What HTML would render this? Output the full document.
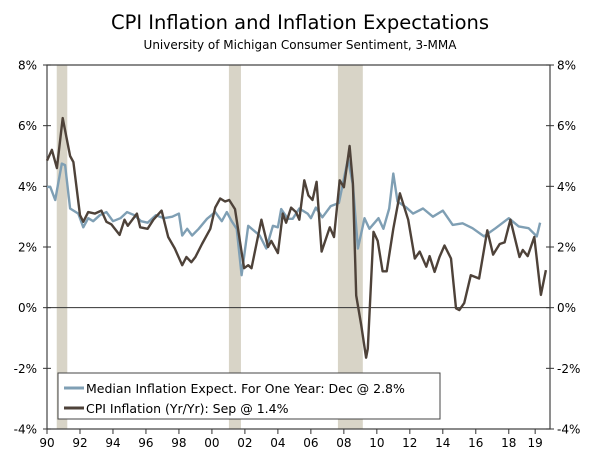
<!DOCTYPE html>
<html><head><meta charset="utf-8"><style>
body{margin:0;background:#fff;}
svg text{font-family:"DejaVu Sans","Liberation Sans",sans-serif;fill:#000;}
</style></head><body>
<svg width="600" height="454" viewBox="0 0 600 454">
<g id="bg"></g><g id="axes"></g><g id="series"></g>
<text x="300" y="29" text-anchor="middle" font-size="19.5">CPI Inflation and Inflation Expectations</text>
<text x="300" y="49" text-anchor="middle" font-size="12">University of Michigan Consumer Sentiment, 3-MMA</text>
<g>
<rect x="58" y="373" width="382" height="46" fill="#fff" stroke="#444" stroke-width="1"/>
<line x1="64" y1="388" x2="84" y2="388" stroke="#7f9fb4" stroke-width="3"/>
<text x="86" y="393" font-size="12.5">Median Inflation Expect. For One Year: Dec @ 2.8%</text>
<line x1="64" y1="408" x2="84" y2="408" stroke="#4e4239" stroke-width="3"/>
<text x="86" y="413" font-size="12.5">CPI Inflation (Yr/Yr): Sep @ 1.4%</text>
</g>
</svg>
<script>
const recessions=[[1990.59,1991.23],[2001.03,2001.76],[2007.64,2009.15]];
const yTicks=[8,6,4,2,0,-2,-4];
const xYears=[1990,1992,1994,1996,1998,2000,2002,2004,2006,2008,2010,2012,2014,2016,2018,2019.6];
const xLabels=["90","92","94","96","98","00","02","04","06","08","10","12","14","16","18","19"];
const cpiT=[1990.0,1990.3,1990.6,1990.95,1991.4,1991.6,1992.0,1992.2,1992.5,1992.9,1993.3,1993.6,1993.9,1994.4,1994.7,1994.9,1995.45,1995.65,1996.1,1996.45,1996.95,1997.35,1997.75,1998.2,1998.45,1998.75,1999.0,1999.4,1999.9,2000.2,2000.5,2000.8,2001.05,2001.4,2001.7,2001.95,2002.2,2002.4,2003.0,2003.4,2003.6,2004.0,2004.3,2004.5,2004.8,2005.1,2005.3,2005.6,2005.85,2006.1,2006.35,2006.65,2007.15,2007.4,2007.75,2008.0,2008.35,2008.55,2008.75,2009.05,2009.35,2009.45,2009.8,2010.05,2010.35,2010.6,2011.0,2011.4,2011.9,2012.3,2012.6,2013.0,2013.2,2013.5,2013.8,2014.1,2014.5,2014.8,2015.0,2015.3,2015.7,2016.2,2016.7,2017.05,2017.45,2017.75,2018.1,2018.65,2018.85,2019.15,2019.55,2019.95,2020.25];
const cpiV=[4.85,5.2,4.6,6.25,5.0,4.8,3.05,2.83,3.15,3.1,3.2,2.83,2.75,2.4,2.9,2.7,3.1,2.65,2.6,2.9,3.2,2.33,1.95,1.4,1.67,1.5,1.67,2.1,2.6,3.3,3.6,3.5,3.55,3.25,2.17,1.3,1.4,1.3,2.9,2.0,2.2,1.8,3.1,2.8,3.3,3.15,2.9,4.2,3.7,3.55,4.15,1.85,2.65,2.33,4.2,3.97,5.33,4.1,0.4,-0.57,-1.65,-1.35,2.5,2.2,1.2,1.2,2.6,3.77,2.9,1.62,1.85,1.35,1.7,1.18,1.67,2.05,1.62,-0.02,-0.08,0.15,1.07,0.96,2.55,1.75,2.1,2.15,2.9,1.67,1.9,1.7,2.33,0.42,1.24];
const expT=[1990.0,1990.2,1990.5,1990.9,1991.1,1991.4,1991.9,1992.2,1992.5,1992.8,1993.2,1993.6,1994.0,1994.45,1994.85,1995.3,1995.7,1996.1,1996.6,1997.1,1997.6,1998.0,1998.2,1998.5,1998.8,1999.2,1999.7,2000.2,2000.6,2000.9,2001.2,2001.5,2001.8,2002.2,2002.9,2003.3,2003.7,2004.0,2004.2,2004.6,2004.9,2005.3,2005.8,2006.0,2006.3,2006.7,2007.2,2007.7,2008.25,2008.55,2008.85,2009.25,2009.55,2010.1,2010.4,2010.75,2011.0,2011.25,2011.8,2012.2,2012.8,2013.4,2014.0,2014.6,2015.2,2015.8,2016.5,2017.2,2018.0,2018.6,2019.2,2019.7,2019.9];
const expV=[3.98,3.98,3.55,4.75,4.7,3.27,3.1,2.65,2.95,2.85,3.05,3.15,2.85,2.95,3.15,3.05,2.85,2.8,3.05,2.95,3.0,3.1,2.38,2.6,2.38,2.6,2.93,3.15,2.85,3.15,2.85,2.6,1.07,2.7,2.38,1.95,2.7,2.65,3.25,2.93,2.93,3.27,3.1,2.95,3.3,2.98,3.35,3.45,4.9,4.05,1.95,2.95,2.6,2.95,2.6,3.27,4.42,3.5,3.3,3.1,3.27,3.0,3.2,2.73,2.78,2.62,2.35,2.62,2.95,2.68,2.62,2.35,2.8];
const X0=47,X1=550,T0=1990,T1=2020.5,Y0=65,Y1=429,V0=8,V1=-4;
const xs=t=>X0+(t-T0)/(T1-T0)*(X1-X0);
const ys=v=>Y0+(v-V0)/(V1-V0)*(Y1-Y0);
const NS="http://www.w3.org/2000/svg";
function mk(tag,parent,attrs){const e=document.createElementNS(NS,tag);for(const k in attrs)e.setAttribute(k,attrs[k]);document.querySelector(parent).appendChild(e);return e;}
recessions.forEach(r=>{const e=mk('rect','#bg',{x:xs(r[0]),y:Y0,width:xs(r[1])-xs(r[0]),height:Y1-Y0,fill:'#d8d4c7'});

});
let e=mk('path','#axes',{d:`M${X0},${Y1}V${Y0}H${X1}V${Y1}H${X0}`,fill:'none',stroke:'#444','stroke-width':1.2});


e=mk('line','#axes',{x1:X0,x2:X1,y1:ys(0),y2:ys(0),stroke:'#333','stroke-width':1});


yTicks.forEach(v=>{const y=ys(v);
mk('line','#axes',{x1:X0-4,x2:X0+4,y1:y,y2:y,stroke:'#333'});
mk('line','#axes',{x1:X1-4,x2:X1+4,y1:y,y2:y,stroke:'#333'});
let t=mk('text','#axes',{x:37,y:y+4.5,'text-anchor':'end','font-size':12});t.textContent=v+'%';


t=mk('text','#axes',{x:557,y:y+4.5,'font-size':12});t.textContent=v+'%';

});
xYears.forEach((yr,i)=>{const x=xs(yr);
mk('line','#axes',{x1:x,x2:x,y1:Y1,y2:Y1+5,stroke:'#333'});
const t=mk('text','#axes',{x:x,y:447,'text-anchor':'middle','font-size':12});t.textContent=xLabels[i];

});
function line(T,V,col,name){const d=T.map((t,i)=>(i?'L':'M')+xs(t).toFixed(1)+','+ys(V[i]).toFixed(1)).join('');
const p=mk('path','#series',{d:d,fill:'none',stroke:col,'stroke-width':2.4,'stroke-linejoin':'round'});

}
line(expT,expV,'#7f9fb4','expectations-line');
line(cpiT,cpiV,'#4e4239','cpi-line');
</script>
</body></html>
